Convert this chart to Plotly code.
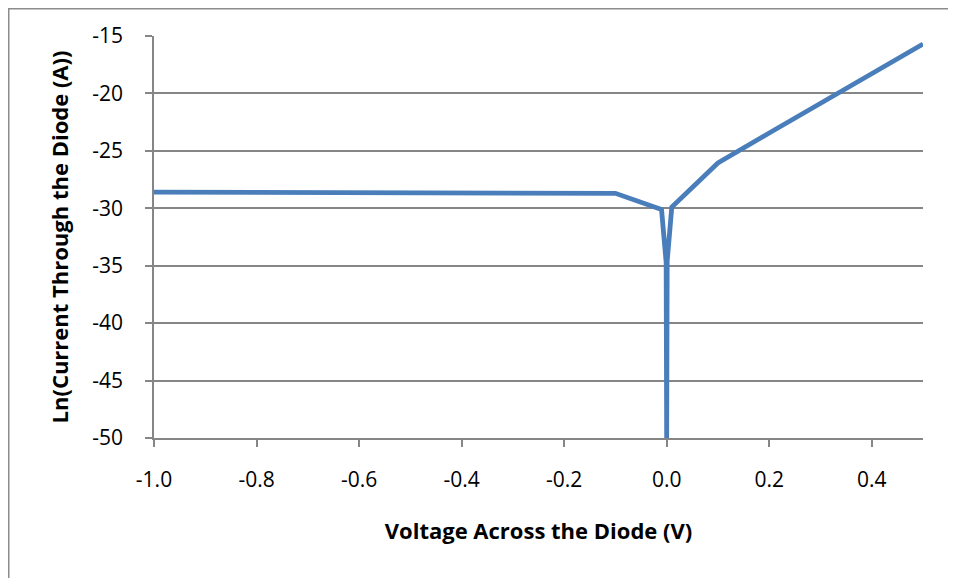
import plotly.graph_objects as go

voltage = [-1.0, -0.9, -0.8, -0.7, -0.6, -0.5, -0.4, -0.3, -0.2, -0.1,
           -0.01, -0.001, 0.0, 0.001, 0.01, 0.1, 0.2, 0.3, 0.4, 0.5]
ln_current = [-28.6, -28.6, -28.6, -28.6, -28.6, -28.62, -28.63, -28.64, -28.66, -28.7,
              -30.1, -34.7, -50.0, -34.6, -29.9, -26.05, -23.45, -20.9, -18.3, -15.7]

x_ticks = [-1.0, -0.8, -0.6, -0.4, -0.2, 0.0, 0.2, 0.4]
x_labels = ["-1.0", "-0.8", "-0.6", "-0.4", "-0.2", "0.0", "0.2", "0.4"]
y_ticks = [-15, -20, -25, -30, -35, -40, -45, -50]
y_labels = ["-15", "-20", "-25", "-30", "-35", "-40", "-45", "-50"]

FONT = "Open Sans, sans-serif"

W, H = 948, 570
ML, MR, MT, MB = 146, 33, 28, 140
pw = W - ML - MR
ph = H - MT - MB

fig = go.Figure()
fig.add_trace(go.Scatter(
    x=voltage, y=ln_current, mode="lines",
    line=dict(color="#4a7ebb", width=4.8),
    showlegend=False,
))

fig.update_layout(
    width=W, height=H,
    margin=dict(l=ML, r=MR, t=MT, b=MB),
    paper_bgcolor="white", plot_bgcolor="white",
    font=dict(family=FONT, size=22, color="black"),
    shapes=[dict(type="rect", xref="paper", yref="paper",
                 x0=(0.75 - ML) / pw, x1=1.2, y0=-0.5, y1=(ph + MT - 0.75) / ph,
                 line=dict(color="#8c8c8c", width=1.5), layer="below")],
)
fig.update_xaxes(
    range=[-1.0, 0.5], tickvals=x_ticks, ticktext=x_labels,
    showgrid=False, zeroline=False,
    showline=True, linecolor="#868686", linewidth=1.5,
    ticks="outside", ticklen=7, tickcolor="#868686", tickwidth=1.5,
    tickfont=dict(size=21), ticklabelstandoff=15,
    title=dict(text="<b>Voltage Across the Diode (V)</b>", font=dict(size=22), standoff=32),
)
fig.update_yaxes(
    range=[-50, -15], tickvals=y_ticks, ticktext=y_labels,
    showgrid=True, gridcolor="#868686", gridwidth=1.5,
    zeroline=False,
    showline=True, linecolor="#868686", linewidth=1.5,
    ticks="outside", ticklen=7, tickcolor="#868686", tickwidth=1.5,
    tickfont=dict(size=21), ticklabelstandoff=18,
    title=dict(text="<b>Ln(Current Through the Diode (A))</b>", font=dict(size=22), standoff=18),
)

fig.write_html("out.html")
